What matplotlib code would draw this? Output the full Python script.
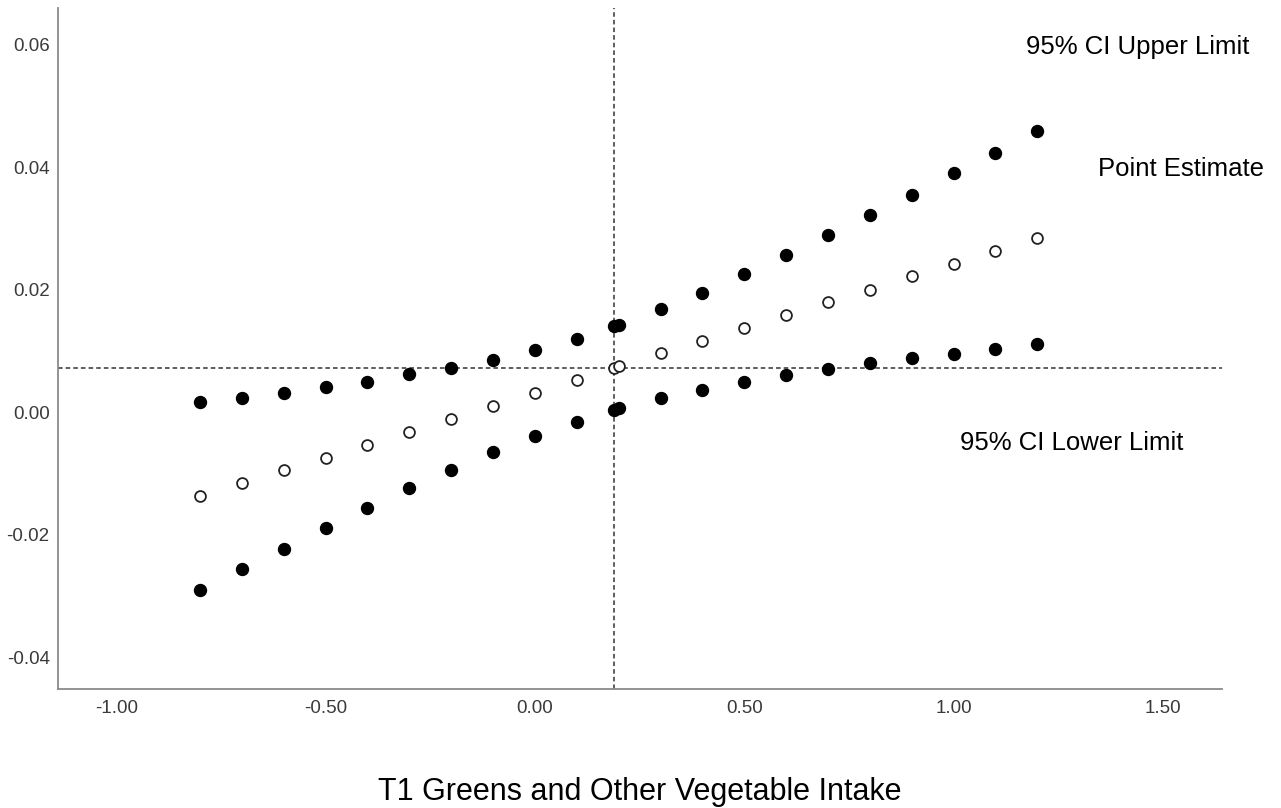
import matplotlib
matplotlib.use('Agg')
from matplotlib import pyplot as plt

plt.rcParams['font.family'] = ['Liberation Sans', 'DejaVu Sans']

# moderator values (0.188 is the Johnson-Neyman point)
x_vals = [-0.8, -0.7, -0.6, -0.5, -0.4, -0.3, -0.2, -0.1, 0.0, 0.1, 0.188,
          0.2, 0.3, 0.4, 0.5, 0.6, 0.7, 0.8, 0.9, 1.0, 1.1, 1.2]
upper = [0.0016, 0.0024, 0.0032, 0.0041, 0.0050, 0.0062, 0.0072, 0.0086,
         0.0102, 0.0120, 0.0141, 0.0143, 0.0168, 0.0195, 0.0225, 0.0256,
         0.0289, 0.0322, 0.0355, 0.0390, 0.0423, 0.0459]
estimate = [-0.0137, -0.0116, -0.0095, -0.0074, -0.0053, -0.0032, -0.0011,
            0.0010, 0.0032, 0.0052, 0.0072, 0.0075, 0.0096, 0.0117, 0.0137,
            0.0158, 0.0180, 0.0200, 0.0222, 0.0242, 0.0263, 0.0285]
lower = [-0.0290, -0.0256, -0.0223, -0.0189, -0.0156, -0.0124, -0.0094,
         -0.0065, -0.0039, -0.0016, 0.0003, 0.0007, 0.0024, 0.0037, 0.0049,
         0.0060, 0.0071, 0.0080, 0.0088, 0.0095, 0.0103, 0.0111]

jn_x = 0.188
jn_y = 0.0072

x_ticks = [-1.0, -0.5, 0.0, 0.5, 1.0, 1.5]
y_ticks = [-0.04, -0.02, 0.0, 0.02, 0.04, 0.06]

fig = plt.figure(figsize=(12.81, 8.08), dpi=100)
ax = fig.add_axes([0.0453, 0.1473, 0.9086, 0.8427])

ax.axvline(jn_x, color='#333333', lw=1.1, ls=(0, (3, 2)), zorder=1)
ax.axhline(jn_y, color='#333333', lw=1.1, ls=(0, (3, 2)), zorder=1)

ax.plot(x_vals, upper, 'o', ms=8.6, color='black', zorder=3)
ax.plot(x_vals, lower, 'o', ms=8.6, color='black', zorder=3)
ax.plot(x_vals, estimate, 'o', ms=7.8, mfc='white', mec='#222222', mew=1.3, zorder=3)

ax.set_xlim(-1.139, 1.641)
ax.set_ylim(-0.0452, 0.066)
ax.set_xticks(x_ticks)
ax.set_xticklabels(['%.2f' % v for v in x_ticks])
ax.set_yticks(y_ticks)
ax.set_yticklabels(['%.2f' % v for v in y_ticks])
ax.tick_params(length=0, labelsize=13.5, labelcolor='#3a3a3a')
ax.tick_params(axis='y', pad=6)
ax.tick_params(axis='x', pad=8)

for side in ['top', 'right']:
    ax.spines[side].set_visible(False)
for side in ['left', 'bottom']:
    ax.spines[side].set_color('#8a8a8a')
    ax.spines[side].set_linewidth(1.3)

ax.text(1.707, 0.0597, '95% CI Upper Limit', fontsize=18.5, va='center', ha='right')
ax.text(1.741, 0.0397, 'Point Estimate', fontsize=18.5, va='center', ha='right')
ax.text(1.015, -0.0050, '95% CI Lower Limit', fontsize=18.5, va='center', ha='left')

fig.text(0.4996, 0.02, 'T1 Greens and Other Vegetable Intake', fontsize=22,
         ha='center', va='center')

fig.savefig('out.png', dpi=100)
